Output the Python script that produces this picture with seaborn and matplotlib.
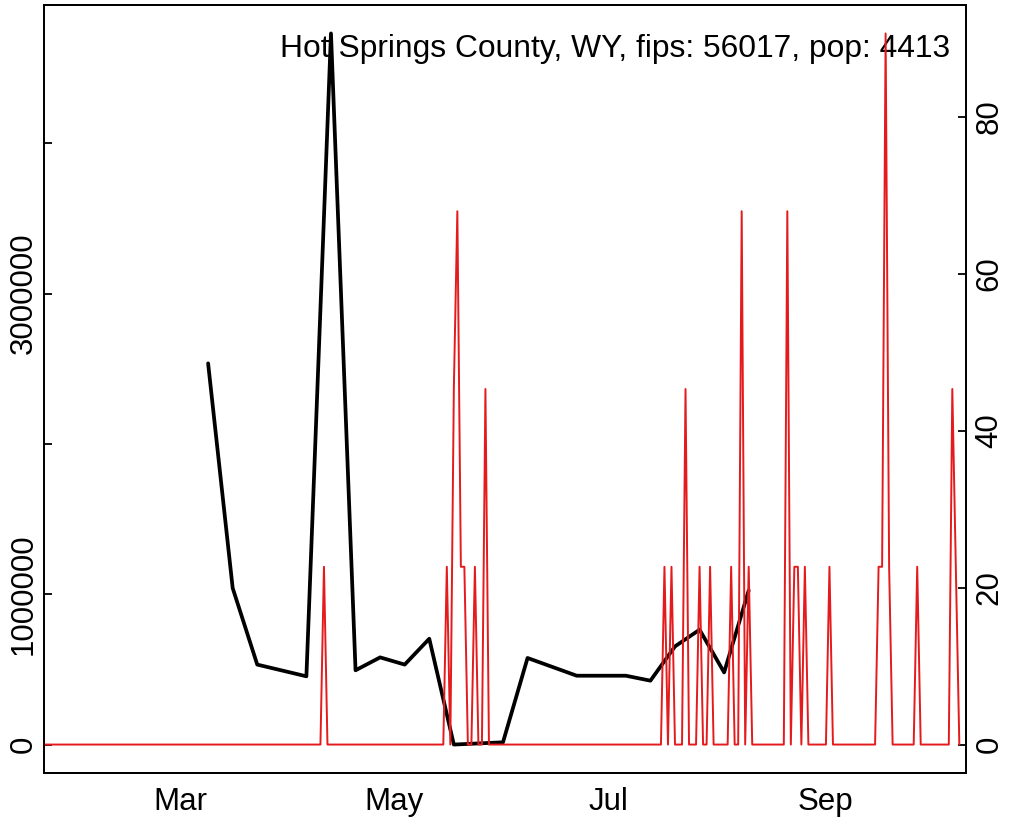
import numpy as np
import pandas as pd
import matplotlib
matplotlib.use("Agg")
import matplotlib.pyplot as plt
import seaborn as sns

# ---- data ----
weekly_dates = ["2020-03-09", "2020-03-16", "2020-03-23", "2020-04-06", "2020-04-13",
                "2020-04-20", "2020-04-27", "2020-05-04", "2020-05-11", "2020-05-18",
                "2020-06-01", "2020-06-08", "2020-06-22", "2020-07-06", "2020-07-13",
                "2020-07-20", "2020-07-27", "2020-08-03", "2020-08-10"]
weekly_values = [2536000, 1041000, 532000, 454000, 4731000,
                 494000, 580000, 532000, 704000, 0,
                 15000, 576000, 458000, 458000, 425000,
                 653000, 764000, 480000, 1025000]

daily_start = "2020-01-22"
daily_end = "2020-10-09"
spike_dates = ["2020-04-11", "2020-05-16", "2020-05-18", "2020-05-19", "2020-05-20",
               "2020-05-21", "2020-05-24", "2020-05-27", "2020-07-17", "2020-07-19",
               "2020-07-23", "2020-07-27", "2020-07-30", "2020-08-05", "2020-08-08",
               "2020-08-10", "2020-08-21", "2020-08-23", "2020-08-24", "2020-08-26",
               "2020-09-02", "2020-09-16", "2020-09-17", "2020-09-18", "2020-09-19",
               "2020-09-27", "2020-10-07", "2020-10-08"]
spike_values = [22.66, 22.66, 45.32, 67.98, 22.66,
                22.66, 22.66, 45.32, 22.66, 22.66,
                45.32, 22.66, 22.66, 22.66, 67.98,
                22.66, 67.98, 22.66, 22.66, 22.66,
                22.66, 22.66, 22.66, 90.64, 22.66,
                22.66, 45.32, 22.66]

x_tick_dates = ["2020-03-01", "2020-05-01", "2020-07-01", "2020-09-01"]
x_tick_labels = ["Mar", "May", "Jul", "Sep"]
left_ticks = [0, 1000000, 2000000, 3000000, 4000000]
left_tick_labels = ["0", "1000000", "", "3000000", ""]
right_ticks = [0, 20, 40, 60, 80]
right_tick_labels = ["0", "20", "40", "60", "80"]
label_text = "Hot Springs County, WY, fips: 56017, pop: 4413"

# ---- frames ----
weekly = pd.DataFrame({"date": pd.to_datetime(weekly_dates), "value": weekly_values})
days = pd.date_range(daily_start, daily_end, freq="D")
daily = pd.Series(0.0, index=days)
daily.loc[pd.to_datetime(spike_dates)] = spike_values
daily = daily.rename_axis("date").reset_index(name="value")

# ---- style ----
sns.set_style("white")
plt.rcParams["font.family"] = ["Liberation Sans", "DejaVu Sans"]
FS = 22.5

fig = plt.figure(figsize=(10.09, 8.17), dpi=100)
W, H = 1009, 817
ax = fig.add_axes([44 / W, 44 / H, 922 / W, 768 / H])

sns.lineplot(data=weekly, x="date", y="value", ax=ax, color="black",
             linewidth=2.7, estimator=None, legend=False)

ax2 = ax.twinx()
sns.lineplot(data=daily, x="date", y="value", ax=ax2, color="#E41A1C",
             linewidth=1.4, estimator=None, legend=False)

# x axis
x0 = pd.Timestamp("2020-03-01") - pd.Timedelta(days=38.75)
x1 = pd.Timestamp("2020-03-01") + pd.Timedelta(days=223.9)
ax.set_xlim(x0, x1)
ax.set_xticks(pd.to_datetime(x_tick_dates))
ax.set_xticklabels(x_tick_labels, fontsize=FS)

wmax = max(weekly_values)
ax.set_ylim(-0.04 * wmax, 1.04 * wmax)
ax.set_yticks(left_ticks)
ax.set_yticklabels(left_tick_labels, fontsize=FS, rotation=90, va="center")

dmax = max(spike_values)
ax2.set_ylim(-0.04 * dmax, 1.04 * dmax)
ax2.set_yticks(right_ticks)
ax2.set_yticklabels(right_tick_labels, fontsize=FS, rotation=90, va="center")

for a in (ax, ax2):
    a.set_xlabel("")
    a.set_ylabel("")
    for s in a.spines.values():
        s.set_visible(True)
        s.set_color("black")
        s.set_linewidth(1.3)
ax.tick_params(axis="x", direction="in", length=5.8, width=1.3, pad=10, colors="black")
ax.tick_params(axis="y", direction="in", length=5.8, width=1.3, pad=4, colors="black")
ax2.tick_params(axis="y", direction="in", length=5.8, width=1.3, pad=6, colors="black")

ax.text((950 - 44) / 922, (773 - 57) / 768, label_text, transform=ax.transAxes,
        ha="right", va="baseline", fontsize=22.9, color="black")

fig.savefig("out.png", dpi=100)
